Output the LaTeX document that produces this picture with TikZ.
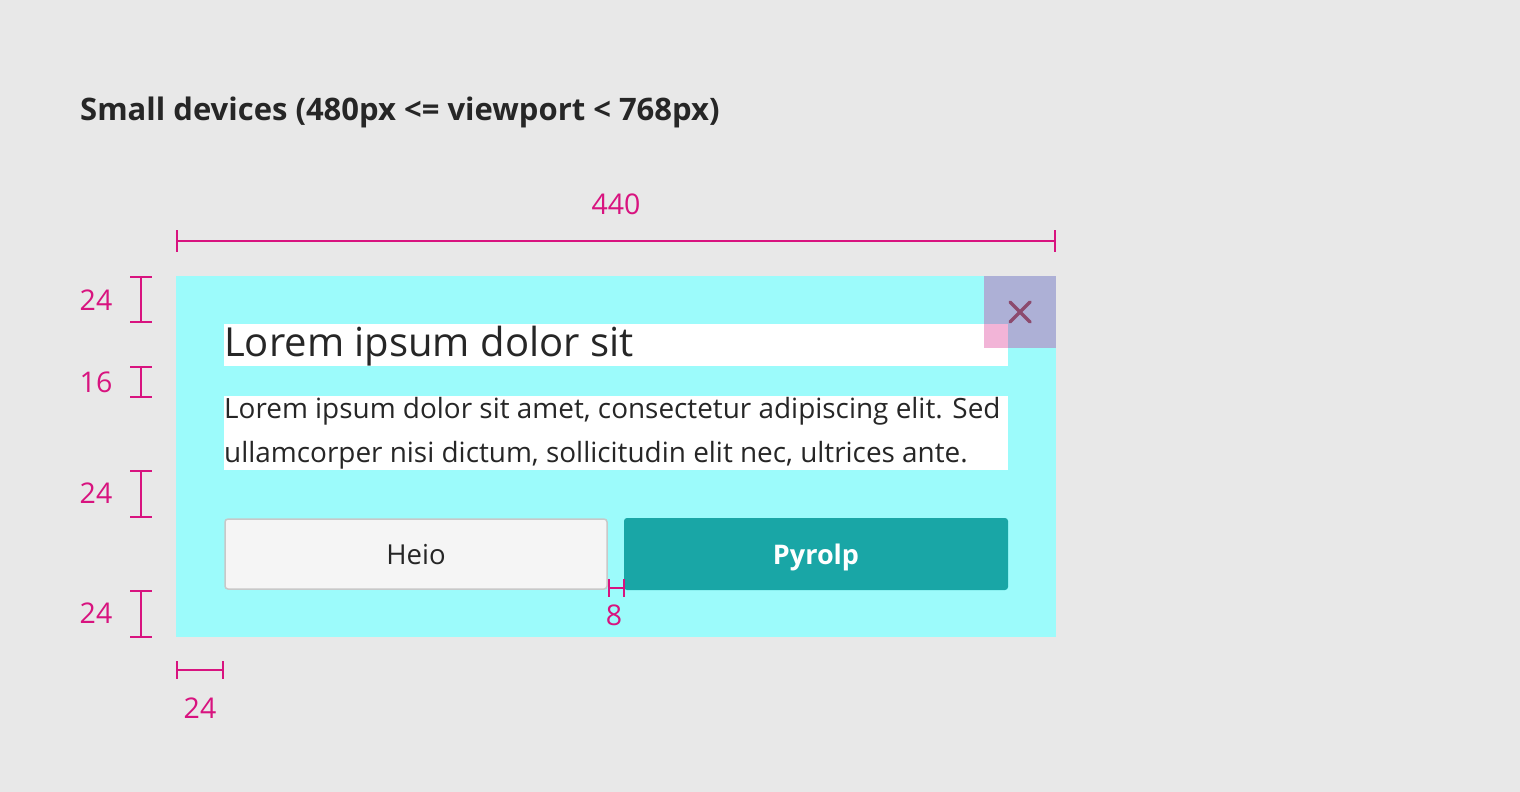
\documentclass[tikz,border=0pt]{standalone}
\usepackage{fontspec}
\setmainfont{Open Sans}
\definecolor{bg}{HTML}{E8E8E8}
\definecolor{cyanbox}{HTML}{9CFBFB}
\definecolor{closebox}{HTML}{ADB0D6}
\definecolor{pinkbox}{HTML}{F2B4D7}
\definecolor{xcol}{HTML}{8C4A6E}
\definecolor{teal}{HTML}{19A6A6}
\definecolor{heiofill}{HTML}{F5F5F5}
\definecolor{heioline}{HTML}{C8C8C8}
\definecolor{txt}{HTML}{262626}
\definecolor{dimc}{HTML}{D8137F}
\tikzset{
  dimline/.style={draw=dimc, line width=2pt},
  dimlabel/.style={text=dimc, font=\fontsize{28.5}{32}\selectfont, inner sep=0pt},
}
\begin{document}
\begin{tikzpicture}[x=1pt,y=-1pt]
\useasboundingbox[fill=bg] (0,0) rectangle (1520,792);
% title
\node[anchor=base west, inner sep=0pt, text=txt, font=\fontsize{31}{36}\bfseries] (title) at (80,120) {Small devices (480px <= viewport < 768px)};
% dialog
\fill[cyanbox] (176,276) rectangle (1056,637);
\node[fill=white, inner sep=0pt, minimum width=784pt, minimum height=42pt, anchor=north west] (headbox) at (224,324) {};
\node[fill=white, inner sep=0pt, minimum width=784pt, minimum height=74pt, anchor=north west] (bodybox) at (224,396) {};
\fill[closebox] (984,276) rectangle (1056,348);
\fill[pinkbox] (984,324) rectangle (1008,348);
\coordinate (xa) at (1010,302); \coordinate (xb) at (1030,322);
\coordinate (xc) at (1030,302); \coordinate (xd) at (1010,322);
\draw[xcol, line width=3.5pt, line cap=round] (xa) -- (xb) (xc) -- (xd);
\node[anchor=base west, inner sep=0pt, text=txt, font=\fontsize{40}{44}\selectfont] (head) at (224,356) {Lorem ipsum dolor sit};
\node[anchor=base west, inner sep=0pt, text=txt, font=\fontsize{27.9}{44}\selectfont] (body1) at (224,418) {Lorem ipsum dolor sit amet, consectetur adipiscing elit. Sed};
\node[anchor=base west, inner sep=0pt, text=txt, font=\fontsize{27.9}{44}\selectfont] (body2) at (224,462) {ullamcorper nisi dictum, sollicitudin elit nec, ultrices ante.};
% buttons
\draw[fill=heiofill, draw=heioline, line width=1.5pt, rounded corners=3pt] (225,519) rectangle (607,589);
\node[anchor=base, inner sep=0pt, text=txt, font=\fontsize{27.5}{30}\selectfont] (heio) at (416,564) {Heio};
\fill[teal, rounded corners=3pt] (624,518) rectangle (1008,590);
\node[anchor=base, inner sep=0pt, text=white, font=\fontsize{27}{30}\bfseries] (pyrolp) at (816,564) {Pyrolp};
% top dimension 440
\coordinate (t1) at (177,241); \coordinate (t2) at (1055,241);
\draw[dimline] (t1) -- (t2);
\draw[dimline] (177,230) -- (177,252) (1055,230) -- (1055,252);
\node[dimlabel, anchor=base] (l440) at (616,214) {440};
% left dimensions
\foreach \ya/\yb/\lab/\by [count=\i] in {277/322/24/310, 367/397/16/392, 471/517/24/503, 591/637/24/623}{
  \draw[dimline] (141,\ya) -- (141,\yb);
  \draw[dimline] (130,\ya) -- (152,\ya) (130,\yb) -- (152,\yb);
  \node[dimlabel, anchor=base] (lv\i) at (96,\by) {\lab};
}
% bottom dimension 24
\draw[dimline] (177,670) -- (223,670);
\draw[dimline] (177,661) -- (177,679) (223,661) -- (223,679);
\node[dimlabel, anchor=base] (lb) at (200,718) {24};
% gap 8
\draw[dimline] (609,588) -- (624,588);
\draw[dimline] (609,579) -- (609,597) (624,579) -- (624,597);
\node[dimlabel, anchor=base] (l8) at (614,625) {8};
\end{tikzpicture}
\end{document}
